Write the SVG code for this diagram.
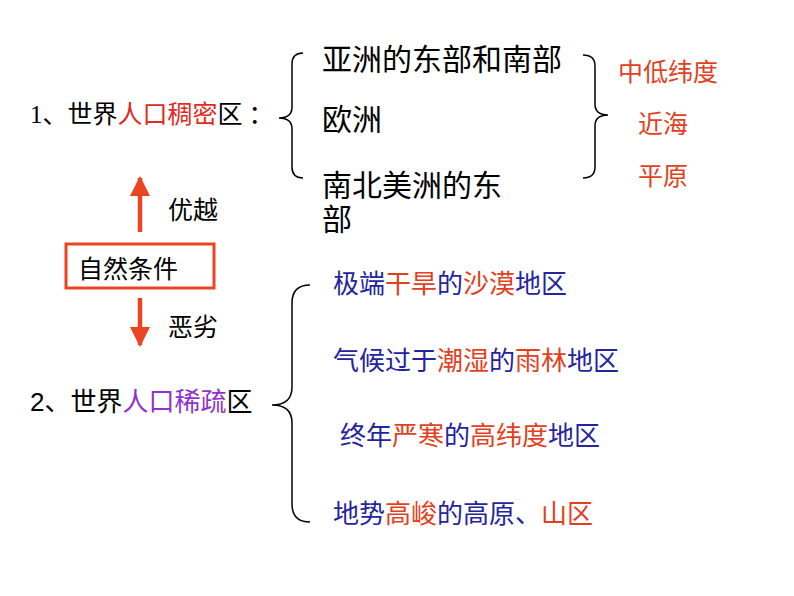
<svg xmlns="http://www.w3.org/2000/svg" width="794" height="596" viewBox="0 0 794 596">
<style>
.s{font-family:"Liberation Serif","Noto Sans CJK SC",serif;fill:#000}
.n{font-family:"Liberation Sans","Noto Sans CJK SC",sans-serif;fill:#000}
.r{fill:#e2401e}
.rd{fill:#e02a22}
.p{fill:#8e32d0}
.b{fill:#24249c}
.br{fill:none;stroke:#000;stroke-width:1.5}
.ar{fill:none;stroke:#ea4420;stroke-width:4.5}
</style>
<defs>
<marker id="ah" viewBox="0 0 10 10" refX="9" refY="5" markerWidth="4.5" markerHeight="4.5" markerUnits="strokeWidth" orient="auto">
<path d="M0,0 L10,5 L0,10 Z" fill="#ea4420"/>
</marker>
</defs>
<rect width="794" height="596" fill="#fff"/>
<g id="connectors">
<path class="br" d="M303,53 Q292,53 292,64 L292,107 Q292,118 279,118 Q292,118 292,129 L292,167 Q292,178 303,178"/>
<path class="br" d="M583,55 Q595,55 595,66 L595,104 Q595,115 608,115 Q595,115 595,126 L595,167 Q595,178 583,178"/>
<path class="br" d="M310,285 Q292,285 292,303 L292,387 Q292,405 272,405 Q292,405 292,423 L292,504 Q292,522 310,522"/>
<line class="ar" x1="140" y1="232" x2="140" y2="178" marker-end="url(#ah)"/>
<line class="ar" x1="140" y1="298" x2="140" y2="345" marker-end="url(#ah)"/>
</g>
<g id="dense-label">
<text class="s" x="30" y="123" font-size="25">1、世界<tspan class="rd">人口稠密</tspan>区<tspan dx="6">：</tspan></text>
</g>
<g id="sparse-label">
<text class="n" x="30" y="411" font-size="26">2、世界<tspan class="p">人口稀疏</tspan>区</text>
</g>
<g id="nature">
<rect x="66" y="244" width="148" height="44" fill="none" stroke="#ea4420" stroke-width="3"/>
<text class="n" x="78" y="278" font-size="25">自然条件</text>
</g>
<g id="superior"><text class="n" x="168" y="219" font-size="25">优越</text></g>
<g id="inferior"><text class="n" x="168" y="336" font-size="25">恶劣</text></g>
<g id="dense-areas">
<text class="s" x="322" y="70" font-size="30">亚洲的东部和南部</text>
<text class="s" x="322" y="130" font-size="30">欧洲</text>
<text class="s" x="322" y="196" font-size="30">南北美洲的东</text>
<text class="s" x="322" y="230" font-size="30">部</text>
</g>
<g id="reasons">
<text class="n r" x="618" y="81" font-size="25">中低纬度</text>
<text class="n r" x="638" y="133" font-size="25">近海</text>
<text class="n r" x="638" y="185" font-size="25">平原</text>
</g>
<g id="sparse-areas">
<text class="n" x="333" y="293" font-size="26"><tspan class="b">极端</tspan><tspan class="r">干旱</tspan><tspan class="b">的</tspan><tspan class="r">沙漠</tspan><tspan class="b">地区</tspan></text>
<text class="n" x="333" y="370" font-size="26"><tspan class="b">气候过于</tspan><tspan class="r">潮湿</tspan><tspan class="b">的</tspan><tspan class="r">雨林</tspan><tspan class="b">地区</tspan></text>
<text class="n" x="340" y="445" font-size="26"><tspan class="b">终年</tspan><tspan class="r">严寒</tspan><tspan class="b">的</tspan><tspan class="r">高纬度</tspan><tspan class="b">地区</tspan></text>
<text class="n" x="333" y="523" font-size="26"><tspan class="b">地势</tspan><tspan class="r">高峻</tspan><tspan class="b">的高原、</tspan><tspan class="r">山区</tspan></text>
</g>
</svg>
